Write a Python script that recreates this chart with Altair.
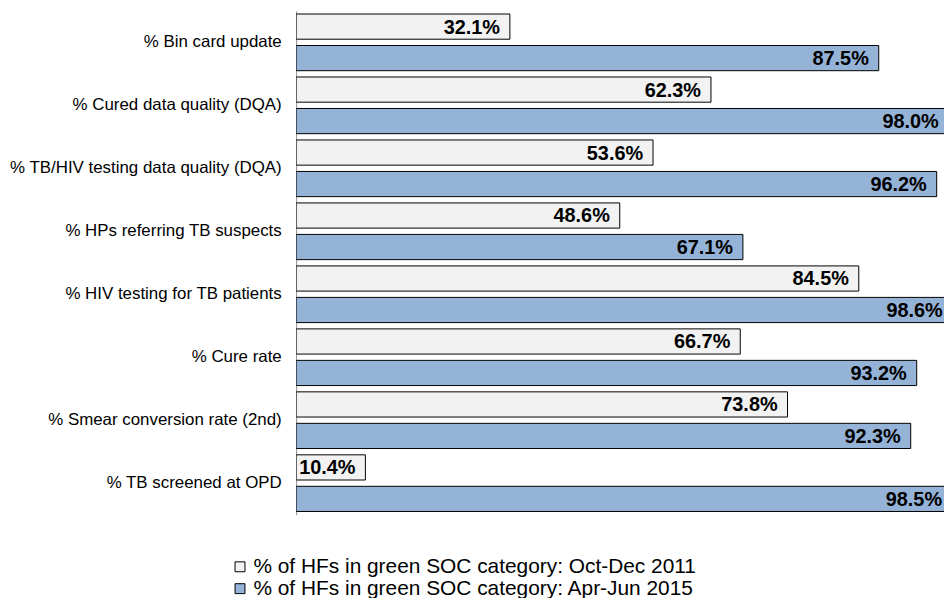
import altair as alt
import pandas as pd

categories = [
    "% Bin card update",
    "% Cured data quality (DQA)",
    "% TB/HIV testing data quality (DQA)",
    "% HPs referring TB suspects",
    "% HIV testing for TB patients\u00a0",
    "% Cure rate",
    "% Smear conversion rate (2nd)",
    "% TB screened at OPD",
]
series = [
    "% of HFs in green SOC category: Oct-Dec 2011",
    "% of HFs in green SOC category: Apr-Jun 2015",
]
values_2011 = [32.1, 62.3, 53.6, 48.6, 84.5, 66.7, 73.8, 10.4]
values_2015 = [87.5, 98.0, 96.2, 67.1, 98.6, 93.2, 92.3, 98.5]
colors = ["#f2f2f2", "#95b3d7"]

rows = []
for c, a, b in zip(categories, values_2011, values_2015):
    rows.append({"category": c, "series": series[0], "value": a})
    rows.append({"category": c, "series": series[1], "value": b})
df = pd.DataFrame(rows)

FONT = "Liberation Sans"

y_enc = alt.Y(
    "category:N",
    sort=categories,
    scale=alt.Scale(paddingInner=0.1, paddingOuter=0.05),
    axis=alt.Axis(
        title=None,
        ticks=False,
        labelFontSize=17,
        labelFont=FONT,
        labelColor="black",
        labelPadding=15,
        labelLimit=400,
        domainColor="#8c8c8c",
        domainWidth=1,
    ),
)
yoff = alt.YOffset("series:N", sort=series, scale=alt.Scale(paddingInner=0.2))
x_enc = alt.X(
    "value:Q",
    scale=alt.Scale(domain=[0, 97.3], nice=False, zero=True),
    axis=None,
)

base = alt.Chart(df).transform_calculate(
    label="format(datum.value, '.1f') + '%'"
)

bars = base.mark_bar(stroke="black", strokeWidth=1, clip=True).encode(
    x=x_enc,
    y=y_enc,
    yOffset=yoff,
    color=alt.Color(
        "series:N",
        sort=series,
        scale=alt.Scale(domain=series, range=colors),
        legend=alt.Legend(
            title=None,
            orient="none",
            legendX=-67,
            legendY=549,
            direction="vertical",
            symbolType="square",
            symbolSize=100,
            symbolStrokeColor="black",
            symbolStrokeWidth=1,
            labelFontSize=21,
            labelFont=FONT,
            labelColor="black",
            labelOffset=3,
            rowPadding=0,
            labelLimit=800,
        ),
    ),
)

texts = base.mark_text(
    align="right",
    baseline="middle",
    dx=-10,
    dy=1,
    fontWeight="bold",
    fontSize=20,
    font=FONT,
    color="black",
).encode(
    x=x_enc,
    y=alt.Y("category:N", sort=categories),
    yOffset=alt.YOffset("series:N", sort=series),
    text="label:N",
)

chart = (
    alt.layer(bars, texts)
    .properties(
        width=652,
        height=507,
        autosize=alt.AutoSizeParams(type="none"),
        padding={"left": 290, "top": 1, "right": 0, "bottom": 82},
    )
    .configure_view(stroke=None)
)

chart.save("out.html", embed_options={"renderer": "svg", "actions": False})
